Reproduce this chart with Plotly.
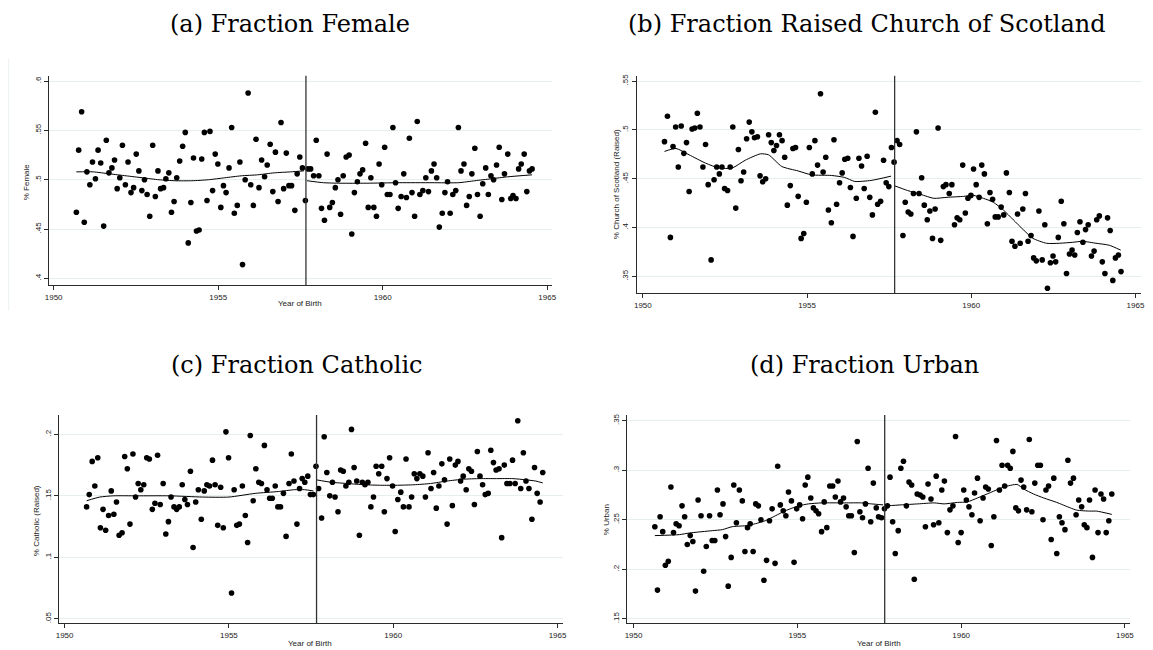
import plotly.graph_objects as go

CUTOFF = 1957.667

# ---------------- (a) Fraction Female ----------------
a_year = [1950.69,1950.76,1950.85,1950.93,1951.01,1951.10,1951.18,1951.27,1951.35,1951.43,1951.52,1951.60,1951.68,1951.77,1951.85,1951.93,
          1952.01,1952.09,1952.18,1952.26,1952.35,1952.43,1952.51,1952.59,1952.68,1952.76,1952.84,1952.92,1953.01,1953.09,1953.17,1953.25,
          1953.34,1953.41,1953.50,1953.58,1953.66,1953.74,1953.83,1953.92,1954.00,1954.09,1954.17,1954.25,1954.34,1954.42,1954.50,1954.58,
          1954.66,1954.75,1954.83,1954.91,1954.99,1955.08,1955.16,1955.24,1955.33,1955.41,1955.49,1955.58,1955.66,1955.74,1955.82,1955.91,
          1955.99,1956.07,1956.15,1956.24,1956.32,1956.41,1956.49,1956.58,1956.66,1956.74,1956.82,1956.91,1956.99,1957.07,1957.15,1957.23,
          1957.33,1957.40,1957.48,1957.56,1957.65,1957.73,1957.81,1957.90,1957.98,1958.06,1958.14,1958.23,1958.31,1958.39,1958.47,1958.56,
          1958.64,1958.72,1958.80,1958.89,1958.98,1959.06,1959.14,1959.23,1959.31,1959.39,1959.48,1959.56,1959.64,1959.73,1959.81,1959.89,
          1959.97,1960.06,1960.14,1960.22,1960.31,1960.39,1960.47,1960.56,1960.64,1960.72,1960.81,1960.89,1960.97,1961.05,1961.13,1961.22,
          1961.31,1961.39,1961.48,1961.56,1961.64,1961.72,1961.81,1961.89,1961.97,1962.05,1962.13,1962.22,1962.30,1962.38,1962.47,1962.55,
          1962.63,1962.71,1962.80,1962.88,1962.96,1963.04,1963.13,1963.21,1963.29,1963.37,1963.46,1963.54,1963.62,1963.70,1963.80,1963.89,
          1963.96,1964.05,1964.13,1964.21,1964.30,1964.38,1964.46,1964.54]
a_val = [.467,.530,.569,.457,.508,.495,.518,.501,.530,.517,.453,.540,.507,.512,.520,.491,
         .502,.535,.495,.518,.487,.492,.526,.509,.489,.500,.485,.463,.535,.483,.509,.491,
         .492,.501,.507,.467,.478,.502,.519,.534,.548,.436,.477,.522,.448,.449,.521,.548,
         .479,.549,.489,.526,.516,.472,.494,.487,.512,.553,.466,.474,.518,.414,.500,.588,
         .495,.474,.541,.492,.520,.503,.515,.536,.488,.528,.478,.558,.491,.527,.494,.494,
         .469,.506,.523,.512,.479,.511,.511,.504,.540,.504,.471,.459,.526,.472,.477,.492,
         .500,.465,.504,.523,.525,.445,.487,.498,.506,.510,.537,.472,.502,.472,.463,.516,
         .495,.533,.485,.485,.553,.497,.471,.483,.506,.482,.542,.487,.463,.559,.485,.489,
         .502,.488,.509,.516,.502,.452,.466,.487,.498,.466,.485,.489,.553,.509,.516,.474,
         .483,.506,.532,.485,.463,.496,.512,.485,.504,.500,.515,.533,.480,.506,.526,.481,
         .484,.481,.511,.516,.526,.488,.509,.511]
a_fit_l_year = [1950.69,1951.2,1951.7,1952.2,1952.7,1953.2,1953.7,1954.2,1954.7,1955.2,1955.7,1956.2,1956.7,1957.2,1957.6]
a_fit_l_val = [.508,.508,.506,.504,.502,.500,.499,.499,.500,.502,.504,.505,.507,.508,.509]
a_fit_r_year = [1957.70,1958.2,1958.7,1959.5,1960.5,1961.5,1962.3,1962.8,1963.3,1963.8,1964.54]
a_fit_r_val = [.499,.497,.4965,.4965,.497,.497,.497,.499,.501,.503,.505]

# ---------------- (b) Fraction Raised Church of Scotland ----------------
b_year = [1950.66,1950.75,1950.84,1950.92,1951.00,1951.08,1951.17,1951.25,1951.33,1951.41,1951.50,1951.58,1951.66,1951.74,1951.83,1951.91,
          1951.99,1952.08,1952.17,1952.25,1952.33,1952.41,1952.49,1952.58,1952.66,1952.74,1952.83,1952.91,1952.99,1953.07,1953.16,1953.24,
          1953.32,1953.40,1953.49,1953.57,1953.65,1953.74,1953.83,1953.91,1953.99,1954.07,1954.16,1954.24,1954.32,1954.40,1954.49,1954.57,
          1954.65,1954.73,1954.82,1954.90,1954.98,1955.07,1955.16,1955.24,1955.32,1955.41,1955.49,1955.57,1955.65,1955.74,1955.82,1955.90,
          1955.99,1956.07,1956.15,1956.24,1956.32,1956.40,1956.50,1956.58,1956.66,1956.74,1956.83,1956.91,1956.99,1957.08,1957.15,1957.24,
          1957.33,1957.41,1957.49,1957.57,1957.65,1957.74,1957.82,1957.92,1957.99,1958.08,1958.16,1958.24,1958.33,1958.41,1958.49,1958.57,
          1958.66,1958.74,1958.82,1958.90,1958.99,1959.07,1959.15,1959.23,1959.33,1959.41,1959.49,1959.57,1959.65,1959.74,1959.82,1959.90,
          1959.99,1960.07,1960.15,1960.24,1960.32,1960.40,1960.49,1960.57,1960.65,1960.73,1960.82,1960.91,1960.99,1961.07,1961.16,1961.24,
          1961.33,1961.41,1961.49,1961.57,1961.65,1961.73,1961.82,1961.90,1961.98,1962.06,1962.16,1962.24,1962.32,1962.41,1962.49,1962.57,
          1962.65,1962.74,1962.82,1962.90,1962.99,1963.07,1963.15,1963.23,1963.31,1963.40,1963.48,1963.56,1963.66,1963.74,1963.82,1963.90,
          1963.99,1964.07,1964.15,1964.23,1964.31,1964.39,1964.48,1964.56]
b_val = [.488,.514,.390,.483,.503,.462,.504,.476,.487,.437,.501,.502,.517,.503,.462,.485,
         .444,.367,.449,.462,.455,.462,.440,.438,.462,.503,.420,.480,.448,.457,.491,.508,
         .498,.492,.493,.453,.447,.450,.495,.487,.479,.484,.495,.489,.472,.423,.443,.481,
         .482,.432,.389,.394,.426,.482,.455,.489,.464,.537,.457,.472,.418,.405,.490,.424,
         .446,.456,.470,.471,.441,.391,.430,.471,.463,.440,.473,.431,.413,.518,.424,.427,
         .469,.446,.442,.482,.467,.489,.485,.392,.426,.416,.414,.435,.498,.435,.451,.423,
         .408,.417,.389,.419,.502,.387,.442,.444,.435,.444,.403,.410,.408,.464,.415,.430,
         .433,.460,.444,.431,.464,.455,.404,.436,.429,.411,.411,.421,.413,.456,.436,.386,
         .381,.414,.384,.419,.435,.386,.392,.369,.366,.417,.367,.403,.338,.364,.371,.365,
         .390,.427,.404,.353,.373,.377,.372,.395,.406,.385,.398,.403,.371,.376,.408,.412,
         .365,.353,.410,.397,.346,.369,.372,.355]
b_fit_l_year = [1950.66,1951.01,1951.41,1951.91,1952.32,1952.72,1953.12,1953.58,1953.83,1954.23,1954.73,1955.14,1955.74,1956.14,1956.45,1956.95,1957.56]
b_fit_l_val = [.478,.481,.4745,.466,.461,.461,.469,.4755,.4745,.4626,.458,.454,.4534,.4514,.4473,.4483,.4527]
b_fit_r_year = [1957.65,1958.06,1958.46,1958.86,1959.26,1959.77,1960.07,1960.37,1960.67,1960.98,1961.28,1961.58,1961.88,1962.29,1962.69,1963.09,1963.39,1963.80,1964.20,1964.55]
b_fit_r_val = [.443,.438,.434,.430,.431,.432,.433,.430,.426,.418,.408,.398,.389,.384,.384,.385,.386,.384,.382,.377]

# ---------------- (c) Fraction Catholic ----------------
c_year = [1950.67,1950.75,1950.84,1950.92,1951.01,1951.09,1951.17,1951.25,1951.34,1951.42,1951.50,1951.58,1951.66,1951.75,1951.83,1951.91,
          1951.99,1952.08,1952.16,1952.24,1952.32,1952.41,1952.50,1952.58,1952.67,1952.75,1952.83,1952.91,1953.00,1953.08,1953.16,1953.24,
          1953.33,1953.41,1953.49,1953.58,1953.66,1953.74,1953.83,1953.91,1953.99,1954.07,1954.16,1954.25,1954.33,1954.41,1954.50,1954.58,
          1954.66,1954.75,1954.83,1954.91,1954.99,1955.08,1955.16,1955.24,1955.32,1955.41,1955.50,1955.57,1955.65,1955.74,1955.82,1955.91,
          1955.99,1956.08,1956.16,1956.24,1956.32,1956.41,1956.49,1956.57,1956.66,1956.74,1956.83,1956.90,1956.98,1957.07,1957.15,1957.23,
          1957.31,1957.40,1957.48,1957.57,1957.65,1957.73,1957.82,1957.90,1957.98,1958.07,1958.15,1958.23,1958.32,1958.40,1958.48,1958.56,
          1958.65,1958.73,1958.81,1958.89,1958.97,1959.06,1959.14,1959.23,1959.32,1959.40,1959.48,1959.56,1959.65,1959.73,1959.81,1959.89,
          1959.98,1960.06,1960.14,1960.23,1960.31,1960.39,1960.48,1960.56,1960.64,1960.72,1960.81,1960.90,1960.98,1961.06,1961.15,1961.23,
          1961.31,1961.39,1961.48,1961.56,1961.64,1961.72,1961.80,1961.89,1961.97,1962.05,1962.13,1962.22,1962.30,1962.38,1962.47,1962.56,
          1962.64,1962.72,1962.80,1962.89,1962.97,1963.05,1963.13,1963.22,1963.30,1963.38,1963.46,1963.55,1963.63,1963.71,1963.79,1963.88,
          1963.96,1964.04,1964.13,1964.22,1964.30,1964.38,1964.47,1964.55]
c_val = [.141,.151,.178,.158,.181,.124,.139,.122,.134,.154,.135,.145,.118,.120,.182,.172,
         .127,.184,.149,.160,.155,.159,.181,.180,.139,.144,.183,.143,.160,.119,.129,.149,
         .141,.139,.141,.159,.147,.143,.170,.108,.145,.155,.131,.154,.159,.158,.179,.159,
         .126,.157,.124,.202,.181,.071,.155,.126,.127,.158,.134,.112,.199,.146,.172,.161,
         .160,.191,.155,.148,.148,.158,.141,.141,.152,.117,.160,.184,.162,.127,.156,.164,
         .161,.166,.151,.151,.174,.156,.132,.198,.169,.150,.161,.149,.137,.171,.170,.158,
         .161,.204,.173,.162,.118,.161,.159,.161,.141,.149,.174,.168,.174,.137,.164,.181,
         .158,.121,.147,.153,.141,.180,.141,.149,.168,.164,.168,.166,.149,.185,.156,.169,
         .140,.158,.176,.163,.127,.180,.142,.175,.178,.162,.166,.155,.172,.170,.143,.186,
         .166,.159,.151,.152,.187,.177,.171,.172,.116,.175,.160,.160,.179,.160,.211,.156,
         .185,.162,.156,.131,.173,.152,.145,.169]
c_fit_l_year = [1950.67,1951.07,1951.48,1952.2,1953.2,1954.2,1955.0,1955.8,1956.5,1957.0,1957.3,1957.57]
c_fit_l_val = [.146,.149,.150,.150,.150,.149,.149,.152,.1535,.155,.155,.154]
c_fit_r_year = [1957.66,1958.12,1958.62,1959.12,1959.62,1960.13,1960.63,1961.13,1961.63,1962.13,1962.64,1963.14,1963.64,1964.04,1964.34,1964.55]
c_fit_r_val = [.163,.161,.160,.159,.1586,.1586,.159,.160,.162,.1635,.164,.164,.164,.163,.162,.1605]

# ---------------- (d) Fraction Urban ----------------
d_year = [1950.65,1950.73,1950.81,1950.89,1950.97,1951.06,1951.14,1951.22,1951.30,1951.39,1951.48,1951.56,1951.64,1951.73,1951.81,1951.89,
          1951.97,1952.06,1952.14,1952.22,1952.32,1952.40,1952.48,1952.56,1952.64,1952.73,1952.81,1952.89,1952.98,1953.06,1953.14,1953.23,
          1953.32,1953.40,1953.48,1953.56,1953.65,1953.73,1953.81,1953.89,1953.98,1954.06,1954.15,1954.23,1954.32,1954.40,1954.48,1954.57,
          1954.65,1954.73,1954.82,1954.90,1954.98,1955.07,1955.16,1955.24,1955.32,1955.41,1955.49,1955.57,1955.65,1955.74,1955.82,1955.90,
          1955.99,1956.08,1956.16,1956.24,1956.32,1956.41,1956.49,1956.57,1956.65,1956.74,1956.83,1956.91,1956.99,1957.08,1957.16,1957.24,
          1957.32,1957.41,1957.48,1957.57,1957.66,1957.75,1957.83,1957.91,1957.99,1958.08,1958.16,1958.24,1958.33,1958.41,1958.49,1958.57,
          1958.66,1958.75,1958.83,1958.91,1958.99,1959.08,1959.16,1959.24,1959.32,1959.41,1959.49,1959.58,1959.66,1959.75,1959.83,1959.91,
          1960.00,1960.08,1960.16,1960.24,1960.33,1960.41,1960.50,1960.58,1960.67,1960.75,1960.83,1960.92,1961.00,1961.08,1961.17,1961.25,
          1961.33,1961.42,1961.50,1961.58,1961.67,1961.75,1961.83,1961.91,1962.00,1962.08,1962.16,1962.25,1962.34,1962.42,1962.50,1962.59,
          1962.67,1962.75,1962.83,1962.92,1963.00,1963.08,1963.17,1963.26,1963.34,1963.43,1963.51,1963.59,1963.68,1963.76,1963.84,1963.92,
          1964.01,1964.09,1964.18,1964.27,1964.35,1964.43,1964.51,1964.60]
d_val = [.243,.179,.253,.238,.204,.208,.283,.237,.246,.244,.264,.253,.225,.234,.228,.178,
         .270,.254,.198,.223,.254,.229,.229,.280,.255,.266,.233,.183,.212,.285,.247,.280,
         .269,.218,.242,.246,.218,.266,.264,.250,.189,.209,.249,.261,.206,.304,.265,.259,
         .254,.278,.269,.207,.261,.265,.251,.285,.293,.272,.262,.259,.256,.238,.268,.242,
         .284,.284,.273,.289,.268,.272,.263,.254,.254,.217,.329,.258,.252,.266,.302,.248,
         .287,.262,.253,.252,.261,.264,.293,.248,.216,.239,.302,.309,.264,.288,.285,.190,
         .276,.275,.273,.243,.286,.271,.245,.294,.247,.280,.289,.237,.260,.264,.334,.227,
         .237,.280,.270,.263,.255,.277,.292,.249,.272,.283,.281,.224,.253,.330,.280,.305,
         .284,.305,.302,.319,.262,.259,.290,.283,.260,.331,.258,.287,.305,.305,.250,.280,
         .284,.230,.292,.216,.253,.247,.240,.310,.287,.292,.255,.270,.263,.245,.242,.270,
         .212,.280,.237,.276,.271,.237,.249,.276]
d_fit_l_year = [1950.65,1951.40,1951.70,1952.41,1952.71,1953.01,1953.42,1953.72,1954.02,1954.33,1954.63,1955.04,1955.34,1955.74,1956.45,1956.96,1957.26,1957.62]
d_fit_l_val = [.234,.235,.2366,.239,.240,.243,.244,.246,.249,.254,.259,.264,.266,.267,.267,.267,.266,.265]
d_fit_r_year = [1957.70,1958.17,1958.68,1959.18,1959.48,1959.89,1960.19,1960.50,1960.90,1961.30,1961.71,1961.91,1962.21,1962.52,1962.92,1963.33,1963.53,1963.93,1964.14,1964.60]
d_fit_r_val = [.264,.265,.266,.267,.266,.2675,.268,.272,.2775,.283,.2856,.281,.276,.272,.2675,.262,.2597,.2587,.2587,.2554]

panels = [
    dict(year=a_year, val=a_val, fl=(a_fit_l_year, a_fit_l_val), fr=(a_fit_r_year, a_fit_r_val),
         xdom=[0.03903, 0.47875], ydom=[0.56262, 0.88615], xr=[1949.849, 1965.15], yr=[0.3929, 0.6054],
         tv=[.4, .45, .5, .55, .6], tt=[".4", ".45", ".5", ".55", ".6"]),
    dict(year=b_year, val=b_val, fl=(b_fit_l_year, b_fit_l_val), fr=(b_fit_r_year, b_fit_r_val),
         xdom=[0.55247, 0.99306], ydom=[0.55031, 0.88615], xr=[1949.81, 1965.17], yr=[0.3327, 0.5554],
         tv=[.35, .4, .45, .5, .55], tt=[".35", ".4", ".45", ".5", ".55"]),
    dict(year=c_year, val=c_val, fl=(c_fit_l_year, c_fit_l_val), fr=(c_fit_r_year, c_fit_r_val),
         xdom=[0.04831, 0.48803], ydom=[0.04108, 0.36262], xr=[1949.84, 1965.16], yr=[0.0463, 0.2157],
         tv=[.05, .1, .15, .2], tt=[".05", ".1", ".15", ".2"]),
    dict(year=d_year, val=d_val, fl=(d_fit_l_year, d_fit_l_val), fr=(d_fit_r_year, d_fit_r_val),
         xdom=[0.54440, 0.98352], ydom=[0.04108, 0.36262], xr=[1949.81, 1965.16], yr=[0.1454, 0.3557],
         tv=[.15, .2, .25, .3, .35], tt=[".15", ".2", ".25", ".3", ".35"]),
]

titles = ["(a) Fraction Female", "(b) Fraction Raised Church of Scotland",
          "(c) Fraction Catholic", "(d) Fraction Urban"]
ytitles = ["% Female", "% Church of Scotland (Raised)", "% Catholic (Raised)", "% Urban"]
xtick_vals = [1950, 1955, 1960, 1965]

SANS = "Liberation Sans, Arial, sans-serif"
SERIF = "DejaVu Serif, Liberation Serif, serif"
AXC = "#2b2b2b"
GRID = "#E6EFF0"

fig = go.Figure()
layout = dict(width=1153, height=650, margin=dict(l=0, r=0, t=0, b=0),
              paper_bgcolor="white", plot_bgcolor="white", showlegend=False)
shapes = []
annotations = []

for i, p in enumerate(panels):
    n = "" if i == 0 else str(i + 1)
    xa, ya = "x" + n, "y" + n
    fig.add_trace(go.Scatter(x=p["year"], y=p["val"], mode="markers", xaxis=xa, yaxis=ya,
                             marker=dict(color="black", size=5.6, line=dict(width=0)), hoverinfo="skip"))
    for fx, fy in (p["fl"], p["fr"]):
        fig.add_trace(go.Scatter(x=fx, y=fy, mode="lines", xaxis=xa, yaxis=ya,
                                 line=dict(color="black", width=1, shape="spline", smoothing=0.6),
                                 hoverinfo="skip"))
    layout["xaxis" + n] = dict(domain=p["xdom"], range=p["xr"], anchor=ya, showgrid=False, zeroline=False,
                               showline=True, linecolor=AXC, linewidth=1, ticks="outside", ticklen=4,
                               tickcolor=AXC, tickwidth=1, tickvals=xtick_vals,
                               ticktext=[str(v) for v in xtick_vals],
                               tickfont=dict(family=SANS, size=8, color="#222"))
    layout["yaxis" + n] = dict(domain=p["ydom"], range=p["yr"], anchor=xa, showgrid=True, gridcolor=GRID,
                               gridwidth=1, zeroline=False, showline=True, linecolor=AXC, linewidth=1,
                               ticks="outside", ticklen=4, tickcolor=AXC, tickwidth=1,
                               tickvals=p["tv"], ticktext=p["tt"], tickangle=-90,
                               tickfont=dict(family=SANS, size=8, color="#222"))
    shapes.append(dict(type="line", xref=xa, yref=ya + " domain", x0=CUTOFF, x1=CUTOFF, y0=0, y1=1,
                       line=dict(color="#333", width=1.3)))

# panel titles (pixel positions -> paper)
def px(x): return x / 1153
def py(y): return 1 - y / 650

title_pos = [(288, 22), (869, 22), (295.5, 364), (867, 364)]
for t, (x, y) in zip(titles, title_pos):
    annotations.append(dict(text=t, x=px(x), y=py(y), xref="paper", yref="paper", showarrow=False,
                            xanchor="center", yanchor="middle",
                            font=dict(family=SERIF, size=24, color="black")))

ytitle_pos = [(23, 180), (617, 183), (33, 520), (607, 519)]
for t, (x, y) in zip(ytitles, ytitle_pos):
    annotations.append(dict(text=t, x=px(x), y=py(y), xref="paper", yref="paper", showarrow=False,
                            xanchor="center", yanchor="middle", textangle=-90,
                            font=dict(family=SANS, size=8, color="#222")))

xtitle_pos = [(298, 302), (308, 643), (881, 643)]
for (x, y) in xtitle_pos:
    annotations.append(dict(text="Year of Birth", x=px(x), y=py(y), xref="paper", yref="paper",
                            showarrow=False, xanchor="center", yanchor="middle",
                            font=dict(family=SANS, size=8, color="#222")))

# faint graph-region edge at far left of panel (a)
shapes.append(dict(type="line", xref="paper", yref="paper", x0=px(4.7), x1=px(4.7), y0=py(310), y1=py(57),
                   line=dict(color="#EDF1F1", width=1)))

layout["shapes"] = shapes
layout["annotations"] = annotations
fig.update_layout(**layout)
fig.write_html("out.html")
